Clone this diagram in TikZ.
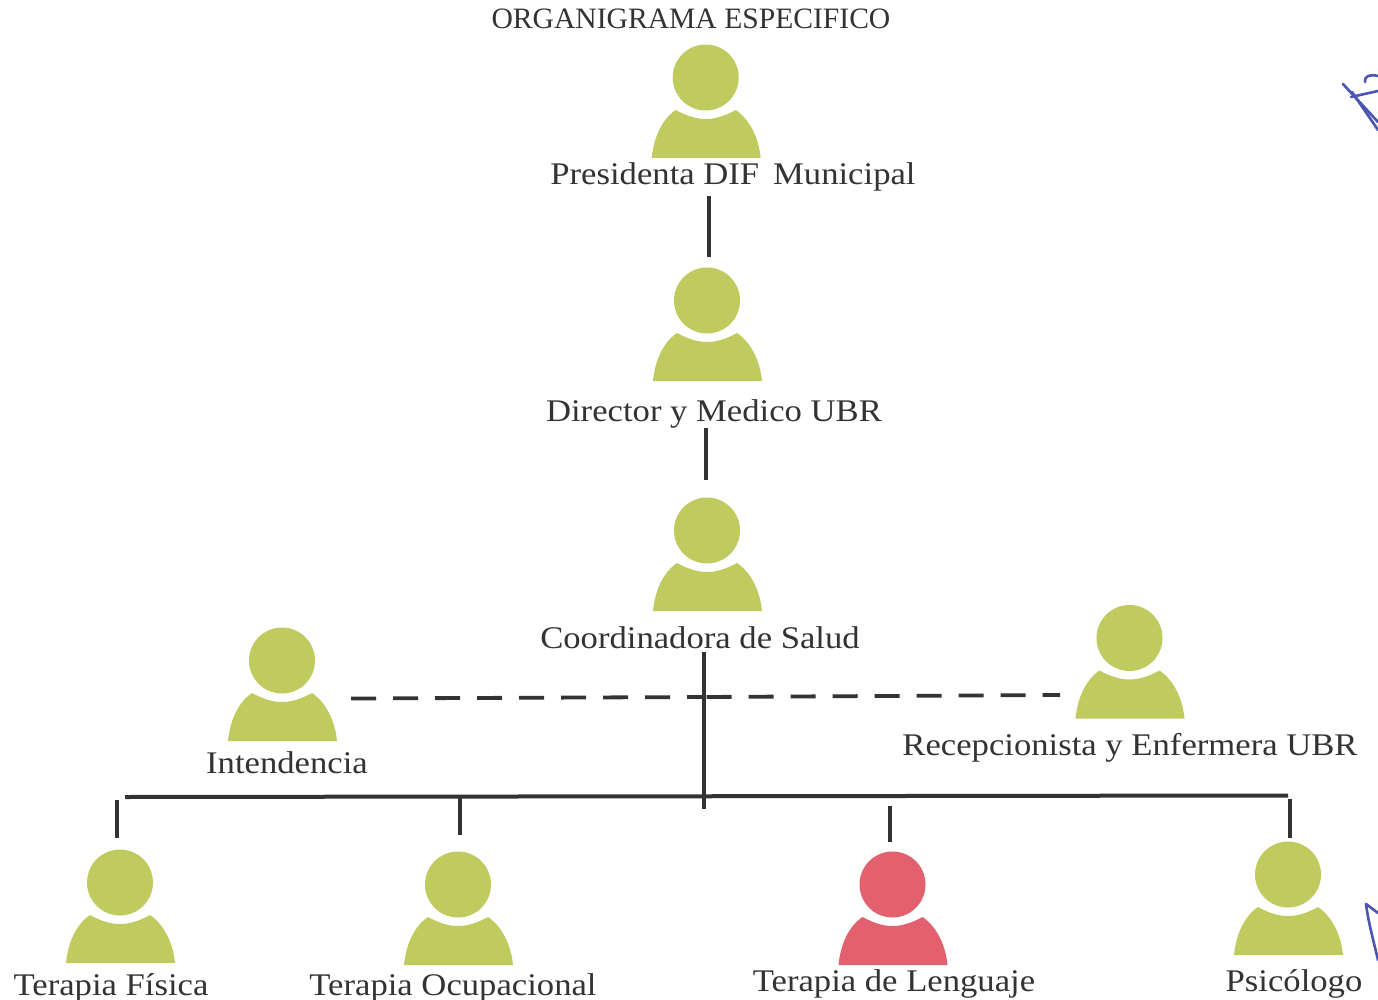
\documentclass[tikz,border=0pt]{standalone}
\usepackage{fontspec}
\setmainfont{Liberation Serif}
\newfontfamily\labelfont[FakeStretch=1.1]{Liberation Serif}
\definecolor{figgreen}{HTML}{BFCB5E}
\definecolor{figred}{HTML}{E3606E}
\definecolor{inkdark}{HTML}{333333}
\definecolor{inkblue}{HTML}{4A55B5}
\tikzset{
  x=1pt,y=-1pt,
  label/.style={inner sep=0pt,text=inkdark,font=\labelfont\fontsize{31.5}{34}\selectfont,anchor=base},
  link/.style={draw=inkdark,line width=4pt},
  dashlink/.style={draw=inkdark,line width=3.8pt,dash pattern=on 25pt off 17pt},
  scribble/.style={draw=inkblue,line width=2.6pt,line cap=round,line join=round},
  head/.style={circle,inner sep=0pt,minimum size=66pt}
}
\newcommand{\figperson}[4]{%
  \node[head,fill=#4] (#1) at (#2,#3) {};
  \fill[#4] ([shift={(-54,80.5)}]#2,#3)
    .. controls ([shift={(-52,60)}]#2,#3) and ([shift={(-44,42)}]#2,#3) .. ([shift={(-30,32.5)}]#2,#3)
    .. controls ([shift={(-18,39)}]#2,#3) and ([shift={(-9,41.5)}]#2,#3) .. ([shift={(0,41.5)}]#2,#3)
    .. controls ([shift={(9,41.5)}]#2,#3) and ([shift={(18,39)}]#2,#3) .. ([shift={(30,32.5)}]#2,#3)
    .. controls ([shift={(44,42)}]#2,#3) and ([shift={(53,60)}]#2,#3) .. ([shift={(55,80.5)}]#2,#3)
    -- cycle;
}
\begin{document}
\begin{tikzpicture}
\useasboundingbox (0,0) rectangle (1378,1000);
\fill[white] (0,0) rectangle (1378,1000);
\node[inner sep=0pt,text=inkdark,anchor=base,font=\fontsize{29.6}{32}\selectfont] (title) at (691,29) {ORGANIGRAMA ESPECIFICO};
\figperson{pres}{705.7}{77.5}{figgreen}
\figperson{dir}{707}{300.5}{figgreen}
\figperson{coord}{707}{530.5}{figgreen}
\figperson{inten}{282}{660.5}{figgreen}
\figperson{recep}{1129.5}{638}{figgreen}
\figperson{fisica}{120}{882.5}{figgreen}
\figperson{ocup}{458}{884.5}{figgreen}
\figperson{leng}{892.5}{884.5}{figred}
\figperson{psico}{1288}{874.5}{figgreen}
\node[label] (lpres) at (733,185) {Presidenta DIF\, Municipal};
\node[label] (ldir) at (714,421) {Director y Medico UBR};
\node[label] (lcoord) at (700,648) {Coordinadora de Salud};
\node[label] (linten) at (287,773) {Intendencia};
\node[label] (lrecep) at (1130,755) {Recepcionista y Enfermera UBR};
\node[label] (lfisica) at (111,995) {Terapia Física};
\node[label] (locup) at (453,995) {Terapia Ocupacional};
\node[label] (lleng) at (894,991) {Terapia de Lenguaje};
\node[label] (lpsico) at (1294,991) {Psicólogo};
% connector ends
\coordinate (a1) at (708.5,196); \coordinate (a2) at (708.5,257);
\coordinate (b1) at (706,428); \coordinate (b2) at (706,480);
\coordinate (c1) at (703.5,652); \coordinate (c2) at (703.5,809);
\coordinate (d1) at (351,698.5); \coordinate (dm) at (703.5,697); \coordinate (d2) at (1060,695);
\coordinate (e1) at (125,797); \coordinate (e2) at (1288,795.5);
\coordinate (f0) at (116.5,800); \coordinate (f1) at (116.5,838);
\coordinate (g0) at (459.5,797); \coordinate (g1) at (459.5,835);
\coordinate (h0) at (890,806); \coordinate (h1) at (890,842);
\coordinate (i0) at (1290,799); \coordinate (i1) at (1290,838);
\draw[link] (a1) -- (a2);
\draw[link] (b1) -- (b2);
\draw[link] (c1) -- (c2);
\draw[dashlink] (d1) -- (dm);
\draw[dashlink,dash phase=39pt] (dm) -- (d2);
\draw[link] (e1) -- (e2);
\draw[link] (f0) -- (f1);
\draw[link] (g0) -- (g1);
\draw[link] (h0) -- (h1);
\draw[link] (i0) -- (i1);
% pen marks
\draw[scribble] (1343,84) -- (1378,122);
\draw[scribble] (1351,97) -- (1378,91);
\draw[scribble] (1352,92) -- (1378,130);
\draw[scribble] (1365,82) .. controls (1364,76) and (1370,74) .. (1378,76);
\draw[scribble] (1378,913) -- (1366,904) .. controls (1368,920) and (1372,935) .. (1378,960);
\end{tikzpicture}
\end{document}
